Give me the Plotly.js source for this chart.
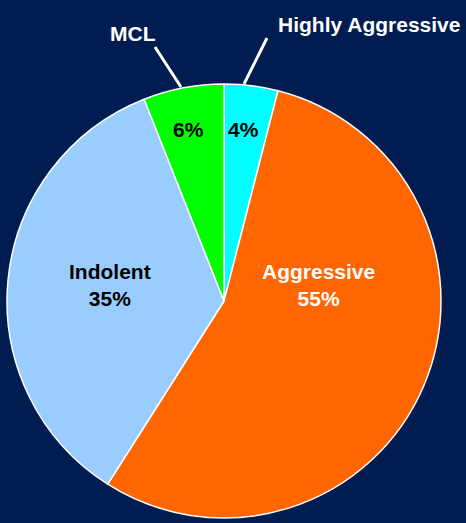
<!DOCTYPE html>
<html><head><meta charset="utf-8">
<script src="https://cdn.plot.ly/plotly-3.0.1.min.js"></script>
<style>html,body{margin:0;padding:0;background:#001c50;}</style>
</head><body>
<div id="chart" style="width:466px;height:523px;"></div>
<script>
const categories = ["Highly Aggressive", "Aggressive", "Indolent", "MCL"];
const values = [4, 55, 35, 6];
const sliceColors = ["#00ffff", "#ff6600", "#99ccff", "#00ff00"];
const textColors = ["#000000", "#ffffff", "#000000", "#000000"];
const sliceTexts = ["4%", "Aggressive<br>55%", "Indolent<br>35%", "6%"];
const outsideLabels = ["Highly Aggressive", "MCL"];

const W = 466, H = 523;
const cx = 224, cy = 301, r = 217;
const FONT = "Liberation Sans, Arial, sans-serif";

const trace = {
  type: "pie",
  labels: categories,
  values: values,
  textinfo: "none",
  sort: false,
  direction: "clockwise",
  rotation: 0,
  marker: {colors: sliceColors, line: {color: "#ffffff", width: 1.5}},
  hoverinfo: "none",
  showlegend: false,
  domain: {x: [(cx - r) / W, (cx + r) / W], y: [(H - cy - r) / H, (H - cy + r) / H]}
};

function px(x){return x / W;}
function py(y){return 1 - y / H;}

// label positions (pixels) for slice texts, in the same order as categories
const insidePos = [[243.5, 129], [318, 285], [110, 285], [188, 129]];
const outsidePos = [[369, 24], [132.5, 33]];

const annotations = [];
sliceTexts.forEach((t, i) => {
  annotations.push({text: "<b>" + t + "</b>", x: px(insidePos[i][0]), y: py(insidePos[i][1]),
    xref: "paper", yref: "paper", xanchor: "center", yanchor: "middle", showarrow: false,
    font: {family: FONT, size: 21, color: textColors[i]}});
});
outsideLabels.forEach((t, i) => {
  annotations.push({text: "<b>" + t + "</b>", x: px(outsidePos[i][0]), y: py(outsidePos[i][1]),
    xref: "paper", yref: "paper", xanchor: "center", yanchor: "middle", showarrow: false,
    font: {family: FONT, size: 21, color: "#ffffff"}});
});

const layout = {
  width: W, height: H,
  margin: {l: 0, r: 0, t: 0, b: 0},
  paper_bgcolor: "#001c50",
  plot_bgcolor: "#001c50",
  showlegend: false,
  annotations: annotations,
  shapes: [
    {type: "line", xref: "paper", yref: "paper", x0: px(155), y0: py(47), x1: px(181), y1: py(87),
     line: {color: "#ffffff", width: 3}},
    {type: "line", xref: "paper", yref: "paper", x0: px(267), y0: py(38), x1: px(244), y1: py(84),
     line: {color: "#ffffff", width: 3}}
  ]
};

Plotly.newPlot("chart", [trace], layout, {displayModeBar: false, staticPlot: true});
</script>
</body></html>
